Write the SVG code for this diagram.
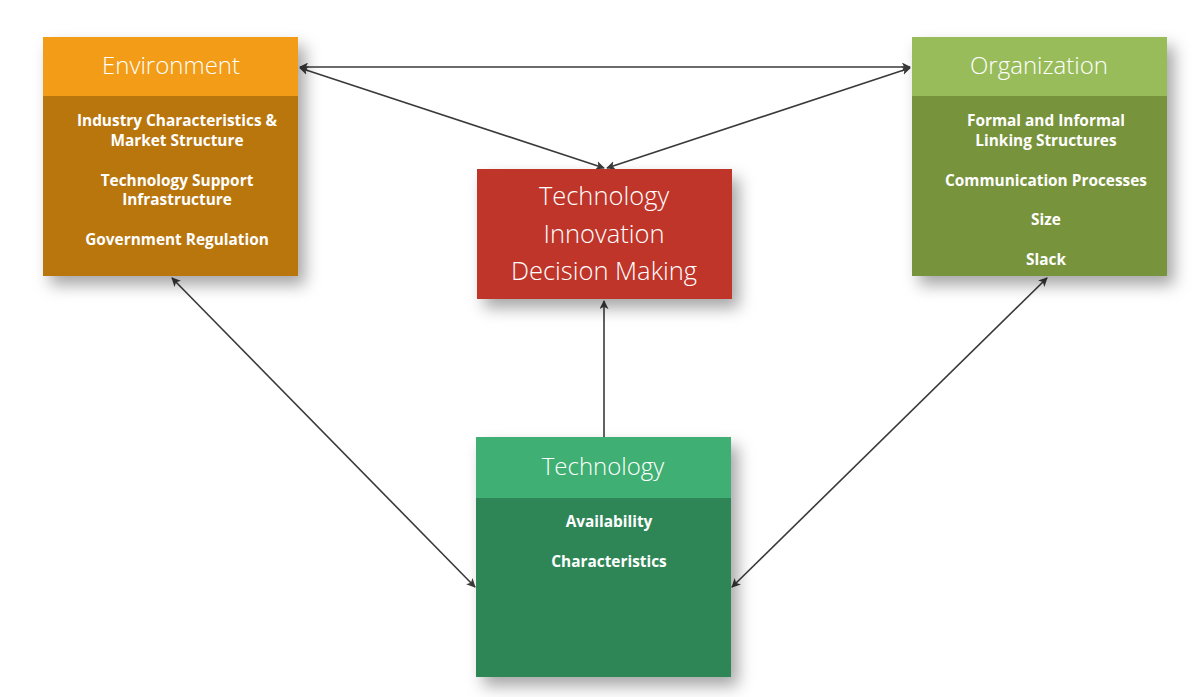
<svg xmlns="http://www.w3.org/2000/svg" width="1201" height="697" viewBox="0 0 1201 697">
<defs>
<style>
.title{font-family:"Open Sans","Noto Sans",sans-serif;font-weight:300;font-size:24px;fill:#fff;text-anchor:middle}
.big{font-size:25.5px}
.item{font-family:"Open Sans","Noto Sans",sans-serif;font-weight:700;font-size:15.4px;fill:#fff;text-anchor:middle}
.conn{stroke:#3a3a3a;stroke-width:1.6;fill:none}
</style>
<filter id="sh" x="-20%" y="-20%" width="150%" height="150%">
<feDropShadow dx="7" dy="9" stdDeviation="8" flood-color="#000" flood-opacity="0.35"/>
</filter>
<marker id="ah" viewBox="0 0 10 10" refX="9" refY="5" markerWidth="9" markerHeight="9" markerUnits="userSpaceOnUse" orient="auto-start-reverse">
<path d="M0,0 L10,5 L0,10 L2.5,5 Z" fill="#3a3a3a"/>
</marker>
</defs>
<rect width="1201" height="697" fill="#fff"/>
<g id="connectors">
<line class="conn" x1="300" y1="67" x2="910" y2="67" marker-start="url(#ah)" marker-end="url(#ah)"/>
<line class="conn" x1="300" y1="68" x2="604" y2="168" marker-start="url(#ah)" marker-end="url(#ah)"/>
<line class="conn" x1="910" y1="68" x2="607" y2="168" marker-start="url(#ah)" marker-end="url(#ah)"/>
<line class="conn" x1="604" y1="437" x2="604" y2="301" marker-end="url(#ah)"/>
<line class="conn" x1="172" y1="278" x2="475" y2="587" marker-start="url(#ah)" marker-end="url(#ah)"/>
<line class="conn" x1="1047" y1="278" x2="732" y2="587" marker-start="url(#ah)" marker-end="url(#ah)"/>
</g>
<g id="environment">
<g filter="url(#sh)">
<rect x="43" y="37" width="255" height="239" fill="#B8760D"/>
</g>
<rect x="43" y="37" width="255" height="59" fill="#F29C17"/>
<text class="title" x="171" y="74">Environment</text>
<text class="item" x="177" y="126">Industry Characteristics &amp;</text>
<text class="item" x="177" y="146">Market Structure</text>
<text class="item" x="177" y="186">Technology Support</text>
<text class="item" x="177" y="205">Infrastructure</text>
<text class="item" x="177" y="245">Government Regulation</text>
</g>
<g id="organization">
<g filter="url(#sh)">
<rect x="912" y="37" width="255" height="239" fill="#77933B"/>
</g>
<rect x="912" y="37" width="255" height="59" fill="#99BC5B"/>
<text class="title" x="1039" y="74">Organization</text>
<text class="item" x="1046" y="126">Formal and Informal</text>
<text class="item" x="1046" y="146">Linking Structures</text>
<text class="item" x="1046" y="186">Communication Processes</text>
<text class="item" x="1046" y="225">Size</text>
<text class="item" x="1046" y="265">Slack</text>
</g>
<g id="decision">
<rect x="477" y="169" width="255" height="130" fill="#BF3629" filter="url(#sh)"/>
<text class="title big" x="604" y="205">Technology</text>
<text class="title big" x="604" y="243">Innovation</text>
<text class="title big" x="604" y="280">Decision Making</text>
</g>
<g id="technology">
<g filter="url(#sh)">
<rect x="476" y="437" width="255" height="240" fill="#2F8657"/>
</g>
<rect x="476" y="437" width="255" height="61" fill="#3FAF73"/>
<text class="title" x="603" y="475">Technology</text>
<text class="item" x="609" y="527">Availability</text>
<text class="item" x="609" y="567">Characteristics</text>
</g>
</svg>
